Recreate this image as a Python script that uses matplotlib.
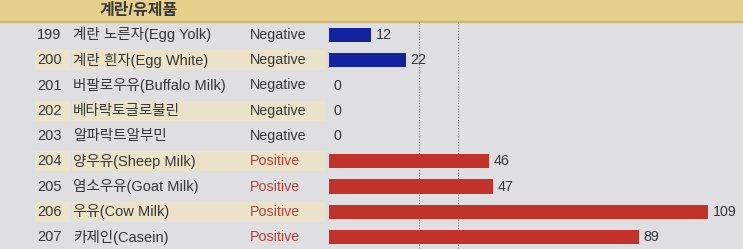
import matplotlib.pyplot as plt

plt.rcParams['font.family'] = ['Liberation Sans', 'Noto Sans CJK KR', 'DejaVu Sans']

# data
header = '계란/유제품'
codes = ['199', '200', '201', '202', '203', '204', '205', '206', '207']
names = ['계란 노른자(Egg Yolk)', '계란 흰자(Egg White)', '버팔로우유(Buffalo Milk)',
         '베타락토글로불린', '알파락트알부민', '양우유(Sheep Milk)', '염소우유(Goat Milk)',
         '우유(Cow Milk)', '카제인(Casein)']
results = ['Negative', 'Negative', 'Negative', 'Negative', 'Negative',
           'Positive', 'Positive', 'Positive', 'Positive']
values = [12, 22, 0, 0, 0, 46, 47, 109, 89]
thresholds = [26, 37]

W, H = 743, 249
bg = '#dfdfe2'
band = '#ebe3c9'
blue = '#1222a0'
red = '#c3322a'
txt = '#363636'
pos_txt = '#b4453a'

fig = plt.figure(figsize=(W / 100, H / 100), dpi=100)
fig.patch.set_facecolor(bg)

# row index units: row r centred at pixel 35 + 25.25*r
ytop = -35 / 25.25
ybot = (H - 35) / 25.25
yhead = (22 - 35) / 25.25

# layout axes in pixel x units
base = fig.add_axes([0, 0, 1, 1])
base.set_xlim(0, W)
base.set_ylim(ybot, ytop)
base.axis('off')

base.axhspan(ytop, yhead, color='#e6d08e', zorder=1)
base.axhline(yhead, color='#c8b07a', lw=1.2, zorder=2)
base.text(100, (ytop + yhead) / 2, header, fontsize=11.5, fontweight='bold',
          color='#3a3a3a', va='center', ha='left', zorder=3)

rows = range(len(codes))
for r in rows:
    if r % 2 == 1:
        base.barh(r, 35, left=35, height=0.8, color=band, zorder=1)
        base.barh(r, 253, left=72, height=0.8, color=band, zorder=1)
    base.text(37, r, codes[r], fontsize=10.5, color=txt, va='center', ha='left', zorder=3)
    base.text(73, r, names[r], fontsize=10.5, color=txt, va='center', ha='left', zorder=3)
    base.text(250, r, results[r], fontsize=10.3, va='center', ha='left', zorder=3,
              color=pos_txt if results[r] == 'Positive' else txt)

# bar axes
ax = fig.add_axes([329 / W, 0, (W - 329) / W, 1])
ax.patch.set_alpha(0)
ax.set_xlim(0, 119)
ax.set_ylim(ybot, ytop)
ax.axis('off')

for t in thresholds:
    ax.plot([t, t], [yhead, ybot], ls=(0, (1, 1.5)), color='#777777', lw=0.8, zorder=1)

colors = [red if r == 'Positive' else blue for r in results]
ax.barh(list(rows), values, height=0.56, color=colors, lw=0, zorder=2)
for r in rows:
    ax.annotate(str(values[r]), (values[r], r), xytext=(3.5, 0), textcoords='offset points',
                fontsize=10.3, color=txt, va='center', ha='left')

fig.savefig('out.png', dpi=100, facecolor=fig.get_facecolor())
